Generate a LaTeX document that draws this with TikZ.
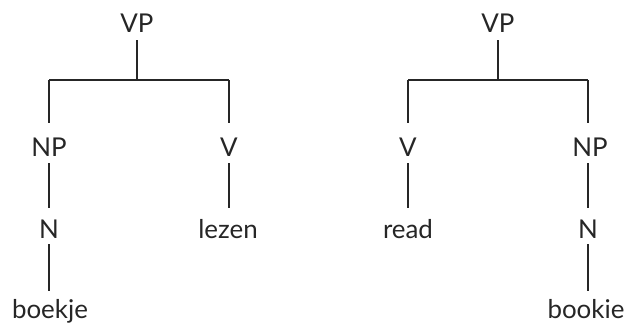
\documentclass[tikz,border=0pt]{standalone}
\usepackage{fontspec}
\setmainfont{Lato}
\definecolor{ink}{HTML}{262626}
\begin{document}
\begin{tikzpicture}[x=1bp,y=1bp,
  lab/.style={anchor=base,inner sep=0pt,text height=18bp,text depth=0pt,
    font=\fontsize{26}{30}\selectfont,text=ink},
  branch/.style={draw=ink,line width=1.2bp}]
\useasboundingbox (0,0) rectangle (630,327);
% left tree (image y -> 327 - y)
\node[lab] (vpL) at (137,295) {VP};
\node[lab] (npL) at (49,171) {NP};
\node[lab] (vL) at (229,171) {V};
\node[lab] (nL) at (49,89) {N};
\node[lab] (lezen) at (228,89) {lezen};
\node[lab] (boekje) at (50,9) {boekje};
\coordinate (barL) at (137,247);
\draw[branch,shorten <=8bp] (vpL.south) -- (barL);
\draw[branch] (npL |- barL) -- (vL |- barL);
\draw[branch,shorten >=15bp] (npL |- barL) -- (npL.north);
\draw[branch,shorten >=15bp] (vL |- barL) -- (vL.north);
\draw[branch,shorten <=7bp,shorten >=12bp] (npL.south) -- (nL.north);
\draw[branch,shorten <=7bp,shorten >=12bp] (vL.south) -- (lezen.north -| vL);
\draw[branch,shorten <=6bp,shorten >=9bp] (nL.south) -- (nL |- boekje.north);
% right tree
\node[lab] (vpR) at (498,295) {VP};
\node[lab] (vR) at (408,171) {V};
\node[lab] (npR) at (590,171) {NP};
\node[lab] (read) at (408,89) {read};
\node[lab] (nR) at (588,89) {N};
\node[lab] (bookie) at (586,9) {bookie};
\coordinate (barR) at (498,247);
\draw[branch,shorten <=8bp] (vpR.south) -- (barR);
\draw[branch] (vR |- barR) -- (588,247);
\draw[branch,shorten >=15bp] (vR |- barR) -- (vR.north);
\draw[branch,shorten >=15bp] (588,247) -- (nR |- npR.north);
\draw[branch,shorten <=7bp,shorten >=12bp] (vR.south) -- (read.north -| vR);
\draw[branch,shorten <=7bp,shorten >=12bp] (nR |- npR.south) -- (nR.north);
\draw[branch,shorten <=6bp,shorten >=9bp] (nR.south) -- (nR |- bookie.north);
\end{tikzpicture}
\end{document}
